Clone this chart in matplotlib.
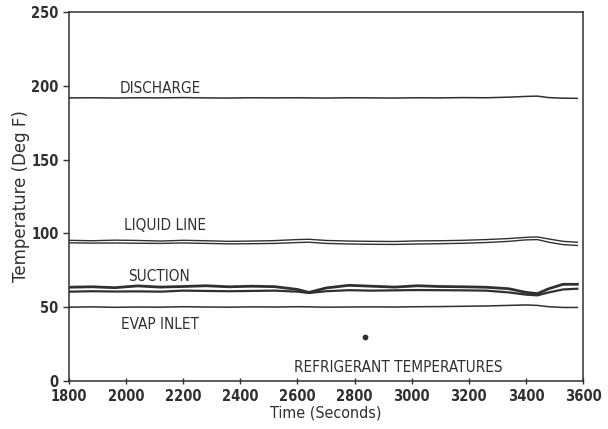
import numpy as np
import matplotlib
matplotlib.use('Agg')
import matplotlib.pyplot as plt

plt.rcParams['font.family'] = ['DejaVu Sans']
plt.rcParams['font.stretch'] = 'condensed'

# Time axis (seconds) and temperatures (deg F)
time = [1800, 1880, 1960, 2040, 2120, 2200, 2280, 2360, 2440, 2520, 2600, 2640, 2700,
        2780, 2860, 2940, 3020, 3100, 3180, 3260, 3340, 3400, 3440, 3480, 3530, 3580]

discharge = [191.8, 191.9, 191.7, 191.9, 191.8, 192.0, 191.8, 191.7, 191.9, 191.8, 191.9, 191.8, 191.7,
             191.9, 191.8, 191.7, 191.9, 191.8, 192.0, 191.9, 192.3, 192.8, 193.0, 192.0, 191.6, 191.5]

liquid_a = [95.3, 95.0, 95.4, 95.2, 94.8, 95.3, 95.0, 94.6, 94.8, 95.1, 95.8, 96.0, 95.2,
            94.8, 94.6, 94.5, 94.9, 95.0, 95.3, 95.8, 96.5, 97.3, 97.6, 96.2, 94.6, 94.0]
liquid_b = [93.6, 93.4, 93.5, 93.3, 93.2, 93.5, 93.2, 92.9, 93.0, 93.2, 93.8, 94.0, 93.2,
            92.8, 92.6, 92.5, 92.8, 93.0, 93.3, 93.8, 94.6, 95.6, 95.8, 94.0, 92.4, 91.8]

suction_a = [63.5, 63.8, 63.2, 64.4, 63.6, 64.0, 64.5, 63.8, 64.2, 63.9, 62.0, 60.0, 63.0,
             64.8, 64.2, 63.6, 64.5, 64.0, 63.8, 63.5, 62.5, 60.0, 59.2, 62.5, 65.5, 65.5]
suction_b = [60.5, 60.8, 60.6, 60.7, 60.5, 61.2, 61.0, 60.8, 61.0, 61.2, 60.5, 59.6, 60.8,
             61.5, 61.2, 61.4, 61.6, 61.5, 61.4, 61.2, 60.0, 58.5, 58.0, 60.0, 62.0, 62.5]

evap_inlet = [50.0, 50.2, 49.9, 50.1, 50.0, 50.3, 50.1, 50.0, 50.2, 50.1, 50.3, 50.2, 50.0,
              50.1, 50.2, 50.1, 50.3, 50.4, 50.6, 50.8, 51.2, 51.5, 51.2, 50.3, 49.8, 49.8]

marker_t = [2837]
marker_v = [30]

ink = '#303030'

fig = plt.figure(figsize=(6.08, 4.29), dpi=100)
ax = fig.add_axes([0.1135, 0.112, 0.8455, 0.86])

ax.plot(time, discharge, color=ink, lw=1.1)
ax.plot(time, liquid_a, color=ink, lw=1.0)
ax.plot(time, liquid_b, color=ink, lw=1.0)
ax.plot(time, suction_a, color=ink, lw=2.0)
ax.plot(time, suction_b, color=ink, lw=1.6)
ax.plot(time, evap_inlet, color=ink, lw=1.1)
ax.scatter(marker_t, marker_v, s=10, color=ink, zorder=3)

lab = dict(fontsize=11, color=ink)
ax.text(1978, 198.5, 'DISCHARGE', va='center', **lab)
ax.text(1993, 105, 'LIQUID LINE', va='center', **lab)
ax.text(2007, 71, 'SUCTION', va='center', **lab)
ax.text(1982, 38, 'EVAP INLET', va='center', **lab)
ax.text(2588, 9, 'REFRIGERANT TEMPERATURES', va='center', **lab)

ax.set_xlim(1800, 3600)
ax.set_ylim(0, 250)
ax.set_xticks(np.arange(1800, 3601, 200))
ax.set_yticks(np.arange(0, 251, 50))
ax.tick_params(axis='x', direction='inout', length=5, width=1, colors=ink, labelsize=10.5)
ax.tick_params(axis='y', direction='out', length=4, width=1, colors=ink, labelsize=10.5)
for lbl in ax.get_xticklabels() + ax.get_yticklabels():
    lbl.set_fontweight('bold')
for s in ax.spines.values():
    s.set_color(ink)
    s.set_linewidth(1.1)

ax.set_xlabel('Time (Seconds)', fontsize=11.5, color=ink, labelpad=1)
ax.set_ylabel('Temperature (Deg F)', fontsize=12, color=ink, labelpad=4,
              fontstretch='normal')
ax.yaxis.set_label_coords(-0.075, 0.5)

fig.savefig('out.png', dpi=100, facecolor='w')
plt.close()
